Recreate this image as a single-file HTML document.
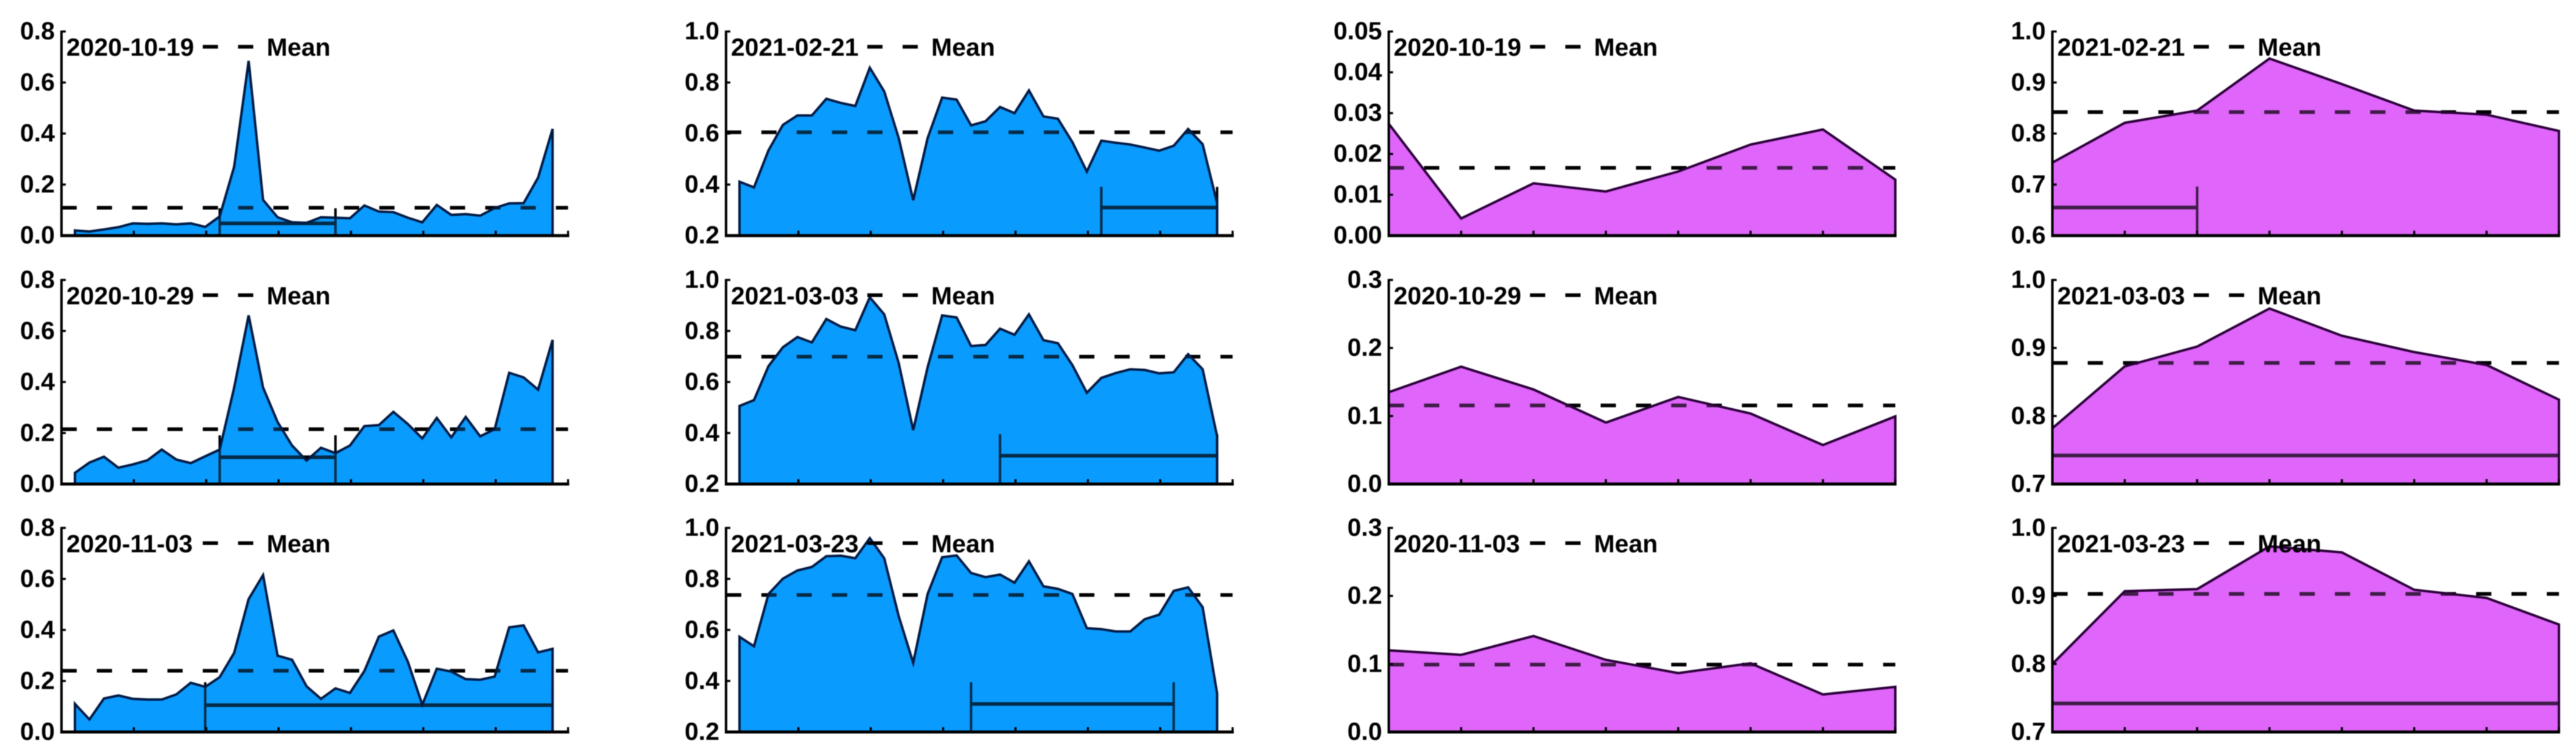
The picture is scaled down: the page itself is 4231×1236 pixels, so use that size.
<!DOCTYPE html>
<html lang="en">
<head>
<meta charset="utf-8">
<title>Time series area panels</title>
<style>
html,body{margin:0;padding:0;background:#fff;width:4231px;height:1236px;overflow:hidden}
svg{display:block;filter:blur(0.8px)}
text{font-family:"Liberation Sans",Arial,sans-serif;font-weight:bold;fill:#000;font-size:41px}
</style>
</head>
<body>
<svg id="figure" xmlns="http://www.w3.org/2000/svg" width="4231" height="1236" viewBox="0 0 4231 1236"></svg>
<script>
// ---- Data ----
const dates1 = ["2020-10-19", "2020-10-29", "2020-11-03"];
const dates2 = ["2021-02-21", "2021-03-03", "2021-03-23"];

const ticksA = ["0.0", "0.2", "0.4", "0.6", "0.8"];
const ticksB = ["0.2", "0.4", "0.6", "0.8", "1.0"];
const ticksC = ["0.00", "0.01", "0.02", "0.03", "0.04", "0.05"];
const ticksD = ["0.0", "0.1", "0.2", "0.3"];
const ticksE = ["0.6", "0.7", "0.8", "0.9", "1.0"];
const ticksF = ["0.7", "0.8", "0.9", "1.0"];

const seriesBlueA1 = [.02,.016,.024,.033,.048,.046,.048,.044,.048,.034,.075,.27,.685,.14,.072,.052,.05,.072,.07,.068,.118,.094,.092,.07,.052,.12,.081,.084,.078,.108,.126,.127,.227,.418];
const seriesBlueA2 = [.044,.084,.107,.064,.077,.093,.135,.096,.082,.109,.135,.378,.661,.378,.243,.151,.092,.142,.121,.151,.227,.231,.283,.235,.179,.259,.183,.263,.187,.215,.436,.418,.37,.565];
const seriesBlueA3 = [.11,.049,.131,.143,.13,.127,.127,.147,.193,.177,.215,.31,.521,.615,.299,.283,.179,.13,.171,.153,.239,.374,.398,.275,.107,.248,.237,.207,.205,.217,.41,.418,.312,.326];
const seriesBlueB1 = [.411,.389,.534,.634,.671,.671,.736,.72,.708,.858,.765,.582,.339,.582,.741,.733,.632,.648,.704,.68,.769,.667,.658,.566,.451,.572,.564,.557,.545,.533,.552,.618,.558,.327];
const seriesBlueB2 = [.506,.529,.662,.736,.776,.755,.847,.817,.803,.932,.865,.674,.411,.658,.861,.853,.741,.745,.809,.785,.865,.764,.752,.666,.558,.616,.635,.65,.647,.634,.638,.709,.65,.387];
const seriesBlueB3 = [.573,.536,.741,.801,.833,.847,.889,.891,.881,.96,.881,.654,.471,.741,.885,.892,.823,.807,.817,.785,.869,.771,.761,.741,.607,.603,.594,.594,.642,.66,.753,.767,.689,.351];

const seriesPurpleC1 = [.0274,.0042,.0128,.0108,.0157,.0223,.026,.0137];
const seriesPurpleC2 = [.135,.1725,.139,.0904,.128,.1036,.0573,.0994];
const seriesPurpleC3 = [.12,.1134,.141,.106,.0866,.1009,.0552,.0663];
const seriesPurpleD1 = [.743,.821,.845,.947,.897,.845,.837,.805];
const seriesPurpleD2 = [.782,.873,.902,.958,.918,.894,.875,.824];
const seriesPurpleD3 = [.8,.907,.91,.973,.964,.909,.897,.858];

const meansA = [.109, .215, .24];
const meansB = [.605, .699, .737];
const meansC = [.0166, .1155, .0991];
const meansD = [.842, .878, .903];

// window brackets: [first index, last index, whisker top value, bar value]
const bracketA1 = [10, 18, .107, .048];
const bracketA2 = [10, 18, .191, .105];
const bracketA3 = [9, 33, .195, .105];
const bracketB1 = [25, 33, .391, .31];
const bracketB2 = [18, 33, .395, .311];
const bracketB3 = [16, 30, .395, .31];
const bracketD1 = [0, 2, .696, .655];
const bracketD2 = [0, 7, .772, .742];
const bracketD3 = [0, 7, .772, .742];

// ---- Panel wiring ----
const columnA = [
  {date: dates1[0], ticks: ticksA, values: seriesBlueA1, mean: meansA[0], bracket: bracketA1},
  {date: dates1[1], ticks: ticksA, values: seriesBlueA2, mean: meansA[1], bracket: bracketA2},
  {date: dates1[2], ticks: ticksA, values: seriesBlueA3, mean: meansA[2], bracket: bracketA3}
];
const columnB = [
  {date: dates2[0], ticks: ticksB, values: seriesBlueB1, mean: meansB[0], bracket: bracketB1},
  {date: dates2[1], ticks: ticksB, values: seriesBlueB2, mean: meansB[1], bracket: bracketB2},
  {date: dates2[2], ticks: ticksB, values: seriesBlueB3, mean: meansB[2], bracket: bracketB3}
];
const columnC = [
  {date: dates1[0], ticks: ticksC, values: seriesPurpleC1, mean: meansC[0], bracket: null},
  {date: dates1[1], ticks: ticksD, values: seriesPurpleC2, mean: meansC[1], bracket: null},
  {date: dates1[2], ticks: ticksD, values: seriesPurpleC3, mean: meansC[2], bracket: null}
];
const columnD = [
  {date: dates2[0], ticks: ticksE, values: seriesPurpleD1, mean: meansD[0], bracket: bracketD1},
  {date: dates2[1], ticks: ticksF, values: seriesPurpleD2, mean: meansD[1], bracket: bracketD2},
  {date: dates2[2], ticks: ticksF, values: seriesPurpleD3, mean: meansD[2], bracket: bracketD3}
];

// ---- Layout ----
const columnLayout = [
  {panels: columnA, left: 101, fill: "#0a9bff", stroke: "#001a44", dense: true, name: "blue"},
  {panels: columnB, left: 1192.5, fill: "#0a9bff", stroke: "#001a44", dense: true, name: "blue"},
  {panels: columnC, left: 2281, fill: "#e066fb", stroke: "#2a0038", dense: false, name: "purple"},
  {panels: columnD, left: 3371, fill: "#e066fb", stroke: "#2a0038", dense: false, name: "purple"}
];
const rowTops = [51.7, 459.5, 866.5];
const PLOT_W = 832;
const PLOT_H = 335;
const X_INTERVALS = 7;

const svg = document.getElementById("figure");
const NS = "http://www.w3.org/2000/svg";

function make(tag, attrs, parent) {
  const node = document.createElementNS(NS, tag);
  for (const key in attrs) node.setAttribute(key, attrs[key]);
  parent.appendChild(node);
  return node;
}

function drawPanel(panel, layout, rowTop, colIndex, rowIndex) {
  const left = layout.left;
  const bottom = rowTop + PLOT_H;
  const yMin = parseFloat(panel.ticks[0]);
  const yMax = parseFloat(panel.ticks[panel.ticks.length - 1]);
  const yScale = v => bottom - (v - yMin) / (yMax - yMin) * PLOT_H;
  const xScale = layout.dense
    ? i => left + (i + 0.93) * PLOT_W / 35
    : i => left + i * PLOT_W / X_INTERVALS;

  const group = make("g", {}, svg);
  
  

  const pts = panel.values.map((v, i) => xScale(i).toFixed(1) + "," + yScale(v).toFixed(1));
  const first = xScale(0).toFixed(1);
  const last = xScale(panel.values.length - 1).toFixed(1);
  const areaPath = "M" + first + "," + bottom + " L" + pts.join(" L") + " L" + last + "," + bottom + " Z";

  const area = make("path", {d: areaPath, fill: layout.fill}, group);
  
  

  const meanY = yScale(panel.mean);
  const meanLine = make("line", {x1: left, x2: left + PLOT_W, y1: meanY, y2: meanY, stroke: "#000", "stroke-width": 6, "stroke-dasharray": "25 33"}, group);
  
  

  if (panel.bracket) {
    const bx1 = xScale(panel.bracket[0]);
    const bx2 = xScale(panel.bracket[1]);
    const bTop = yScale(panel.bracket[2]);
    const bBar = yScale(panel.bracket[3]);
    const bLeft = make("line", {x1: bx1, x2: bx1, y1: bottom, y2: bTop, stroke: "#000", "stroke-width": 4}, group);
    
    
    const bRight = make("line", {x1: bx2, x2: bx2, y1: bottom, y2: bTop, stroke: "#000", "stroke-width": 4}, group);
    
    
    const bMid = make("line", {x1: bx1, x2: bx2, y1: bBar, y2: bBar, stroke: "#000", "stroke-width": 6}, group);
    
    
  }

  // translucent second pass of the fill tints the lines inside the area
  const tint = make("path", {d: areaPath, fill: layout.fill, "fill-opacity": 0.28}, group);
  
  

  const outline = make("path", {d: areaPath, fill: "none", stroke: layout.stroke, "stroke-width": 4, "stroke-linejoin": "miter"}, group);
  
  

  const yAxis = make("line", {x1: left, x2: left, y1: rowTop - 1.5, y2: bottom + 2, stroke: "#000", "stroke-width": 4}, group);
  
  

  const xAxis = make("line", {x1: left - 2, x2: left + PLOT_W + 2, y1: bottom, y2: bottom, stroke: "#000", "stroke-width": 5}, group);
  
  

  for (let k = 1; k <= X_INTERVALS; k++) {
    const tx = left + k * PLOT_W / X_INTERVALS;
    const xTick = make("line", {x1: tx, x2: tx, y1: bottom, y2: bottom - 8, stroke: "#000", "stroke-width": 3.5}, group);
    
    
  }

  panel.ticks.forEach(label => {
    const ty = yScale(parseFloat(label));
    const yTick = make("line", {x1: left, x2: left + 7, y1: ty, y2: ty, stroke: "#000", "stroke-width": 3.5}, group);
    
    
    const yLabel = make("text", {x: left - 11, y: ty + 13, "text-anchor": "end"}, group);
    
    
    yLabel.textContent = label;
  });

  const dateText = make("text", {x: left + 8, y: rowTop + 40}, group);
  
  
  dateText.textContent = panel.date;

  const keyLine = make("line", {x1: left + 232, x2: left + 315, y1: rowTop + 25, y2: rowTop + 25, stroke: "#000", "stroke-width": 6, "stroke-dasharray": "25 33"}, group);
  
  

  const meanText = make("text", {x: left + 337, y: rowTop + 40}, group);
  
  
  meanText.textContent = "Mean";
}

columnLayout.forEach((layout, c) => {
  layout.panels.forEach((panel, r) => drawPanel(panel, layout, rowTops[r], c, r));
});
</script>
</body>
</html>
